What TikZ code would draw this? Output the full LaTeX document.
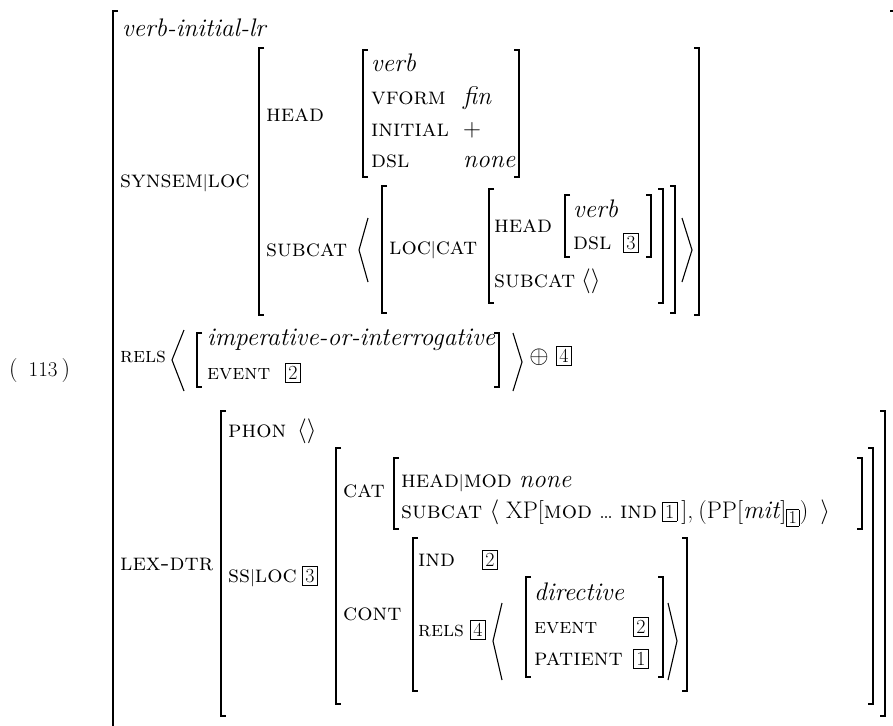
\documentclass[tikz,border=0pt]{standalone}
\usepackage{fontspec}
% feature names, types, tags and bars
\newcommand{\ft}[1]{{\fontsize{24}{28}\selectfont\textsc{#1}}}
\newcommand{\fte}[1]{{\fontsize{21.5}{28}\selectfont\textsc{#1}}}
\newcommand{\ty}[1]{{\fontsize{25.4}{30}\selectfont\textit{#1}}}
\newcommand{\tg}[1]{{\fboxsep=2.5pt\fboxrule=0.6pt\fbox{\fontsize{20}{20}\selectfont #1}}}
\newcommand{\tgm}[1]{{\fboxsep=1.8pt\fboxrule=0.6pt\fbox{\fontsize{18}{18}\selectfont #1}}}
\newcommand{\pbar}{{\fontsize{18}{18}\selectfont$|$}}
% left x, right x, top y, bottom y
\newcommand{\avm}[4]{%
  \draw[brk] (#1+5,#3) -- (#1,#3) -- (#1,#4) -- (#1+5,#4);
  \draw[brk] (#2-5,#3) -- (#2,#3) -- (#2,#4) -- (#2-5,#4);}
\begin{document}
\begin{tikzpicture}[x=1pt,y=-1pt,font=\fontsize{24}{28}\selectfont,
  txt/.style={anchor=base west,inner sep=0pt},
  brk/.style={line width=1.3pt},
  ang/.style={line width=1.1pt}]
\useasboundingbox (0,0) rectangle (893,725);

\node[txt] (exno) at (9,376) {(\hspace{11pt}{\fontsize{21}{21}\selectfont 113}\hspace{4pt})};

\node[txt] (vil) at (122,37) {\ty{verb-initial-lr}};
\node[txt] (synsem) at (120,187) {\ft{synsem}\pbar\ft{loc}};
\node[txt] (head) at (266,121) {\ft{head}};
\node[txt] (hverb) at (371,71) {\ty{verb}};
\node[txt] (vform) at (371,104) {\ft{vform}};
\node[txt] (fin) at (463,104) {\ty{fin}};
\node[txt] (initial) at (371,136) {\ft{initial}};
\node[txt] (plus) at (463,136) {$+$};
\node[txt] (dsl) at (371,167) {\ft{dsl}};
\node[txt] (none) at (463,167) {\ty{none}};
\node[txt] (subcat) at (266,256) {\ft{subcat}};
\node[txt] (loccat) at (389,254) {\ft{loc}\pbar\ft{cat}};
\node[txt] (ihead) at (494,232) {\ft{head}};
\node[txt] (iverb) at (573,217) {\ty{verb}};
\node[txt] (idsl) at (573,249) {\ft{dsl}};
\node[txt] (tagdsl) at (623,249) {\tg{3}};
\node[txt] (isubcat) at (494,287) {\ft{subcat}};
\node[txt] (iempty) at (581,287) {$\langle\rangle$};

\node[txt] (rels) at (120,362) {\fte{rels}};
\node[txt] (imp) at (207,345) {\ty{imperative-or-interrogative}};
\node[txt] (event) at (207,379) {\fte{event}};
\node[txt] (tagevent) at (285,379) {\tg{2}};
\node (oplus) at (539,357) {$\oplus$};
\node[txt] (tagrels) at (556,362) {\tg{4}};

\node[txt] (phon) at (228,437) {\ft{phon}};
\node[txt] (pempty) at (297,437) {$\langle\rangle$};
\node[txt] (lexdtr) at (120,570) {\ft{lex-dtr}};
\node[txt] (ssloc) at (228,582) {\ft{ss}\pbar\ft{loc}};
\node[txt] (tagss) at (302,582) {\tg{3}};
\node[txt] (cat) at (343,497) {\ft{cat}};
\node[txt] (headmod) at (401,487) {\ft{head}\pbar\ft{mod} \ty{none}};
\node[txt] (xp) at (401,518) {\ft{subcat} $\big\langle$\hspace{7pt}XP[\ft{mod}\hspace{7pt}\dots\hspace{7pt}\ft{ind}\hspace{5pt}\tg{1}\,],\hspace{5pt}(PP[\ty{mit}]$_{\tgm{1}}$)\hspace{12pt}$\big\rangle$};
\node[txt] (cont) at (343,620) {\ft{cont}};
\node[txt] (ind) at (418,566) {\ft{ind}};
\node[txt] (tagind) at (482,566) {\tg{2}};
\node[txt] (crels) at (418,636) {\fte{rels}};
\node[txt] (tagcrels) at (470,636) {\tg{4}};
\node[txt] (dir) at (534,600) {\ty{directive}};
\node[txt] (devent) at (534,633) {\fte{event}};
\node[txt] (tagdevent) at (633,633) {\tg{2}};
\node[txt] (patient) at (534,665) {\ft{patient}};
\node[txt] (tagpatient) at (633,665) {\tg{1}};

% brackets
\avm{113}{895}{11}{740}
\avm{259}{699}{48}{315}
\avm{363}{519}{50}{177}
\avm{382}{675}{186}{313}
\avm{489}{663}{189}{303}
\avm{565}{651}{195}{257}
\avm{197}{499}{333}{387}
\avm{221}{885}{411}{716}
\avm{336}{873}{448}{704}
\avm{394}{862}{458}{529}
\avm{413}{687}{538}{691}
\avm{526}{663}{577}{677}

% list angles
\draw[ang] (368,218) -- (359,250) -- (368,282);
\draw[ang] (682,218) -- (692,250) -- (682,282);
\draw[ang] (184,330) -- (172,360) -- (184,391);
\draw[ang] (513,333) -- (522,362) -- (513,391);
\draw[ang] (502,603) -- (493,641) -- (502,680);
\draw[ang] (668,603) -- (677,641) -- (668,680);

\end{tikzpicture}
\end{document}
